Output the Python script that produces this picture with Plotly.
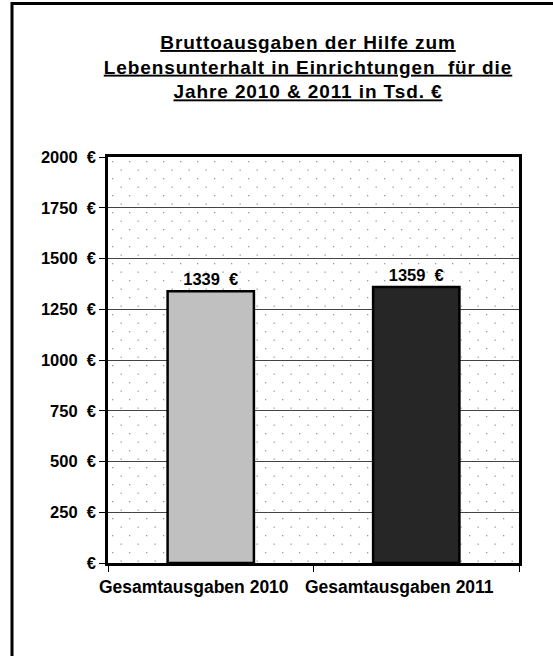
import base64
import plotly.graph_objects as go

categories = ["Gesamtausgaben 2010", "Gesamtausgaben 2011"]
values = [1339, 1359]
bar_colors = ["#c0c0c0", "#262626"]
tick_vals = [0, 250, 500, 750, 1000, 1250, 1500, 1750, 2000]
tick_text = ["€", "250\u00a0 €", "500\u00a0 €", "750\u00a0 €", "1000\u00a0 €",
             "1250\u00a0 €", "1500\u00a0 €", "1750\u00a0 €", "2000\u00a0 €"]

FONT = "Liberation Sans, Arial, sans-serif"
LBL = dict(family=FONT, size=16.5, color="black", weight="bold")

# dotted plot-area background as an svg pattern
svg = (
    '<svg xmlns="http://www.w3.org/2000/svg" width="411" height="406">'
    '<defs><pattern id="p" width="17" height="17" patternUnits="userSpaceOnUse">'
    '<rect x="4" y="4" width="1.3" height="1.3" fill="#9a9a9a"/>'
    '<rect x="12.5" y="12.5" width="1.3" height="1.3" fill="#9a9a9a"/>'
    '</pattern></defs><rect width="411" height="406" fill="url(#p)"/></svg>'
)
bg_src = "data:image/svg+xml;base64," + base64.b64encode(svg.encode()).decode()

fig = go.Figure(
    go.Bar(
        x=categories, y=values,
        marker_color=bar_colors,
        marker_line_color="black",
        marker_line_width=2.5,
        width=0.42,
        texttemplate="%{y}\u00a0 €",
        textposition="outside",
        textfont=LBL,
        cliponaxis=False,
        hoverinfo="skip",
    )
)

title_lines = [
    "Bruttoausgaben der Hilfe zum",
    "Lebensunterhalt in Einrichtungen\u00a0 für die",
    "Jahre 2010 &amp; 2011 in Tsd. €",
]
title_html = "<br>".join(
    '<span style="letter-spacing:0.9px"><u>%s</u></span>' % t for t in title_lines
)

fig.update_layout(
    width=553, height=656,
    margin=dict(l=108, r=34, t=157, b=93),
    paper_bgcolor="white",
    plot_bgcolor="white",
    showlegend=False,
    font=LBL,
    title=dict(
        text=title_html,
        x=0.557, xanchor="center",
        y=1 - 49 / 656, yanchor="top",
        font=dict(family=FONT, size=19, color="black", weight="bold"),
    ),
    images=[dict(
        source=bg_src, xref="paper", yref="paper",
        x=0, y=1, sizex=1, sizey=1,
        xanchor="left", yanchor="top",
        sizing="stretch", layer="below",
    )],
    shapes=[dict(
        type="rect", xref="paper", yref="paper",
        x0=(12 - 108) / 411, x1=2, y0=-1, y1=(563 - 3.5) / 406,
        line=dict(color="black", width=3), layer="below",
    )],
)

fig.update_xaxes(
    showline=True, linecolor="black", linewidth=2.5, mirror=True,
    ticks="outside", tickson="boundaries", ticklen=6, tickcolor="black",
    showgrid=False,
    ticklabelshift=-17, ticklabelstandoff=6,
    tickfont=dict(family=FONT, size=17.5, color="black", weight="bold"),
)
fig.update_yaxes(
    range=[0, 2000],
    tickvals=tick_vals, ticktext=tick_text,
    showline=True, linecolor="black", linewidth=2.5, mirror=True,
    ticks="outside", ticklen=6, tickcolor="black",
    showgrid=True, gridcolor="#444444", gridwidth=1,
    zeroline=False,
    tickfont=LBL,
)

fig.write_html("out.html", config={"displayModeBar": False},
               post_script="document.body.style.margin='0';")
